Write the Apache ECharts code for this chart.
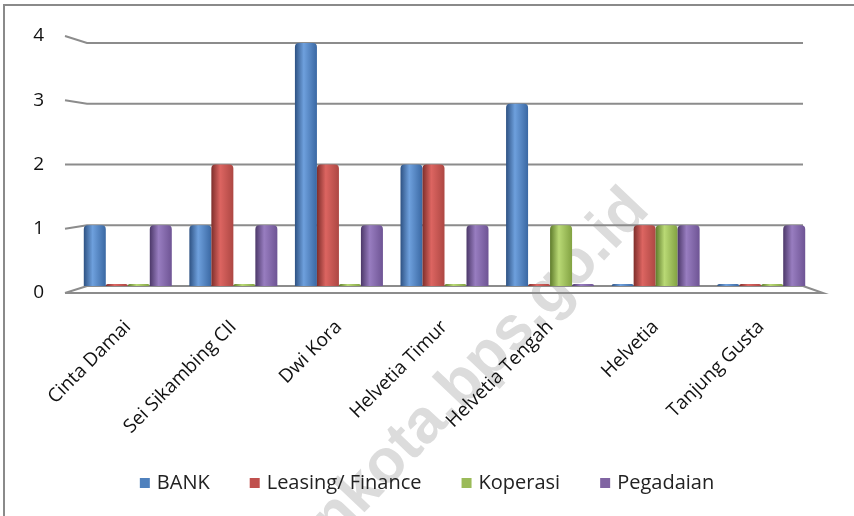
<!DOCTYPE html>
<html>
<head>
<meta charset="utf-8">
<script src="https://cdn.jsdelivr.net/npm/echarts@6/dist/echarts.min.js"></script>
<style>
  html, body { margin: 0; padding: 0; background: #fff; }
  #chart { width: 854px; height: 516px; }
</style>
</head>
<body>
<div id="chart"></div>
<script>
// data
var categories = ['Cinta Damai', 'Sei Sikambing CII', 'Dwi Kora', 'Helvetia Timur', 'Helvetia Tengah', 'Helvetia', 'Tanjung Gusta'];
var bank      = [1, 1, 4, 2, 3, 0, 0];
var leasing   = [0, 2, 2, 2, 0, 1, 0];
var koperasi  = [0, 0, 0, 0, 1, 1, 0];
var pegadaian = [1, 1, 1, 1, 0, 1, 1];
var yTicks = [0, 1, 2, 3, 4];
var seriesNames = ['BANK', 'Leasing/ Finance', 'Koperasi', 'Pegadaian'];
var flatColors = ['#4f81bd', '#c0504d', '#9bbb59', '#8064a2'];

var font = '"Open Sans", "Noto Sans", sans-serif';

// cylinder look: dark edge - light - dark edge
function tube(dark, light, dark2) {
    return new echarts.graphic.LinearGradient(0, 0, 1, 0, [
        { offset: 0, color: dark },
        { offset: 0.4, color: light },
        { offset: 1, color: dark2 }
    ]);
}

function makeSeries(name, data, dark, light, dark2) {
    return {
        name: name,
        type: 'bar',
        data: data,
        barWidth: 22,
        barGap: '0%',
        barMinHeight: 2,
        itemStyle: { color: tube(dark, light, dark2), borderRadius: [4, 4, 0, 0] },
        emphasis: { disabled: true }
    };
}

var chart = echarts.init(document.getElementById('chart'));

var option = {
    animation: false,
    textStyle: { fontFamily: font },
    // grid 0 holds the bars (back wall), grid 1 only carries the y labels at the slanted side edge
    grid: [
        { left: 75, right: 40, top: 43, bottom: 230 },
        { left: 65, right: 40, top: 36, bottom: 223 }
    ],
    legend: {
        top: 468,
        left: 'center',
        icon: 'rect',
        itemWidth: 10,
        itemHeight: 10,
        itemGap: 40,
        textStyle: { fontSize: 20, color: '#222', fontFamily: font, padding: [0, 0, 0, 2] },
        data: seriesNames.map(function (n, i) {
            return { name: n, itemStyle: { color: flatColors[i] } };
        })
    },
    xAxis: [{
        type: 'category',
        gridIndex: 0,
        data: categories,
        axisLine: { show: false },
        axisTick: { show: false },
        axisLabel: { rotate: 45, margin: 38, fontSize: 19, color: '#111', interval: 0 }
    }, {
        type: 'value',
        gridIndex: 1,
        show: false
    }],
    yAxis: [{
        type: 'value',
        gridIndex: 0,
        min: 0,
        max: 4,
        interval: 1,
        splitLine: { show: false },
        axisLine: { show: false },
        axisTick: { show: false },
        axisLabel: { show: false }
    }, {
        type: 'value',
        gridIndex: 1,
        min: 0,
        max: 4,
        interval: 1,
        splitLine: { show: false },
        axisLine: { show: false },
        axisTick: { show: false },
        axisLabel: { margin: 21, fontSize: 19, color: '#111' }
    }],
    series: [
        makeSeries('BANK', bank, '#2e5283', '#6ea0dd', '#3a68a3'),
        makeSeries('Leasing/ Finance', leasing, '#7e2e2b', '#dc6561', '#ad4743'),
        makeSeries('Koperasi', koperasi, '#5e7b2b', '#b9d975', '#82a242'),
        makeSeries('Pegadaian', pegadaian, '#4c3869', '#987dc0', '#6e5494')
    ]
};
chart.setOption(option);

// back wall gridlines, side slant and floor, plus frame and watermark
var wallL = 87, wallR = 803, sideL = 65, sideR = 823;
var g = [];
yTicks.forEach(function (v) {
    var y = chart.convertToPixel({ yAxisIndex: 0 }, v);
    var ySide = chart.convertToPixel({ yAxisIndex: 1 }, v);
    g.push({ type: 'polyline', z: 1, silent: true,
        shape: { points: [[sideL, ySide], [wallL, y], [wallR, y]] },
        style: { stroke: '#8c8c8c', lineWidth: 2, fill: null } });
});
var y0 = chart.convertToPixel({ yAxisIndex: 0 }, 0);
var y0s = chart.convertToPixel({ yAxisIndex: 1 }, 0);
g.push({ type: 'polyline', z: 1, silent: true,
    shape: { points: [[sideL, y0s], [sideR, y0s], [wallR, y0]] },
    style: { stroke: '#8c8c8c', lineWidth: 2, fill: null } });
g.push({ type: 'rect', z: 0, silent: true,
    shape: { x: 4, y: 5, width: 900, height: 600 },
    style: { stroke: '#8a8a8a', lineWidth: 2, fill: null } });
g.push({ type: 'text', z: -1, silent: true,
    x: 425, y: 424, rotation: 0.81,
    style: { text: 'medankota.bps.go.id', fontSize: 62, fontWeight: 'bold',
        fontFamily: '"Liberation Sans", Arial, sans-serif', fill: '#dcdcdc',
        align: 'center', verticalAlign: 'middle' } });
chart.setOption({ graphic: g });
window.addEventListener('resize', chart.resize);
</script>
</body>
</html>
